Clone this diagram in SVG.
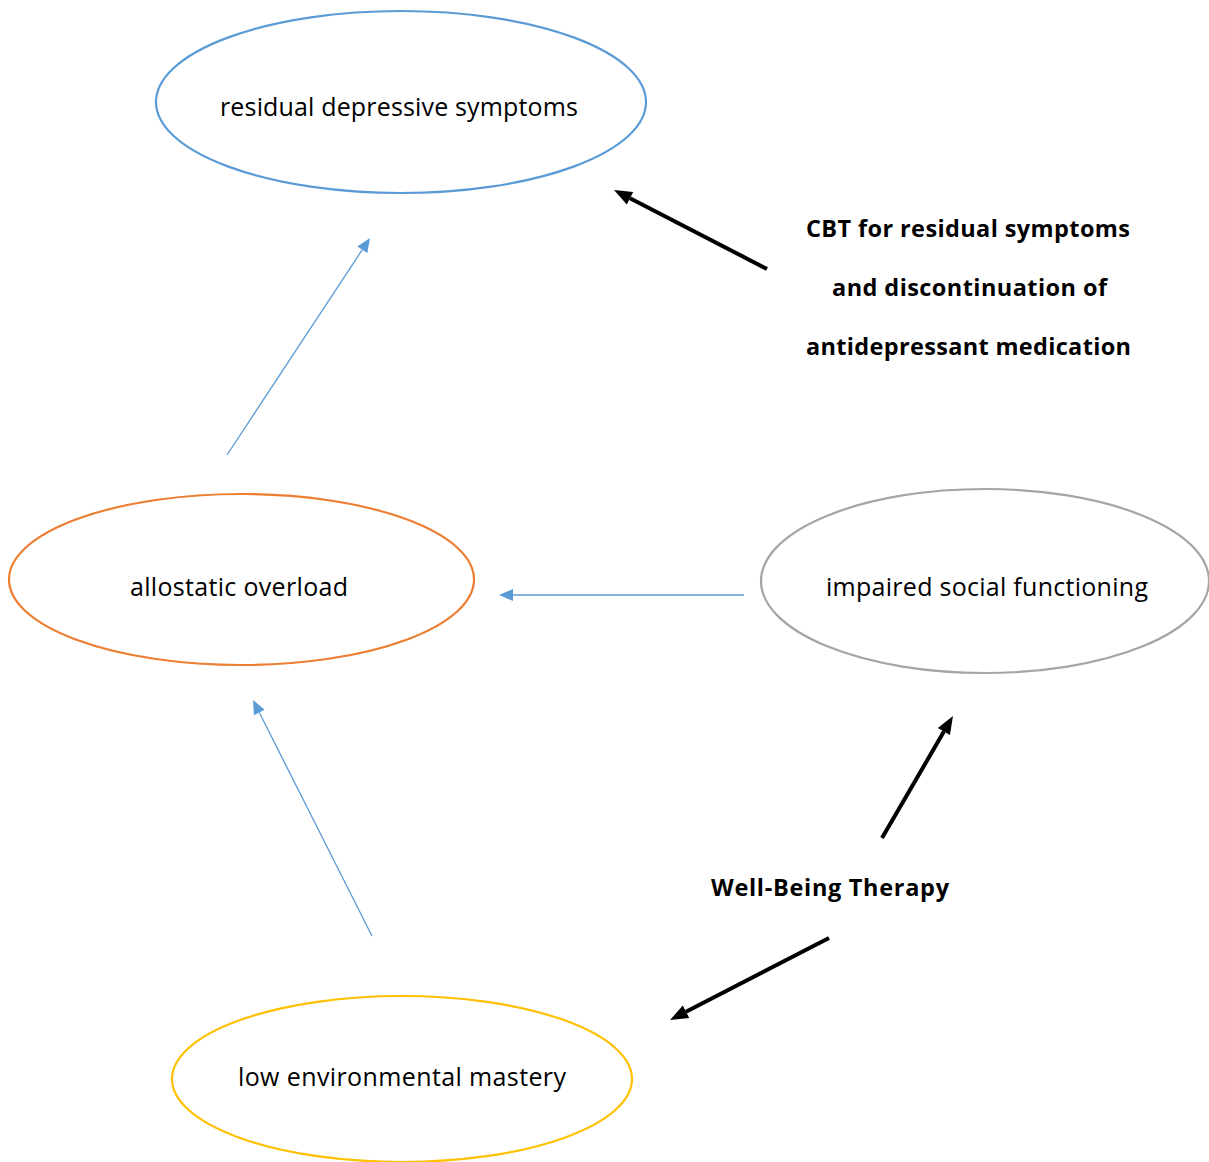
<svg xmlns="http://www.w3.org/2000/svg" width="1209" height="1162" viewBox="0 0 1209 1162">
<defs>
<style>
.node{fill:#fff;stroke-width:2.2}
.lbl{font-family:"Open Sans",Lato,"Liberation Sans",sans-serif;font-size:25px;fill:#000;text-anchor:middle}
.bold{font-family:"Open Sans",Lato,"Liberation Sans",sans-serif;font-size:23.5px;font-weight:bold;fill:#000;text-anchor:middle}
.blue{stroke:#5B9BD5;stroke-width:1.3;fill:none}
.black{stroke:#000;stroke-width:4;fill:none}
</style>
<marker id="ab" markerUnits="userSpaceOnUse" viewBox="0 -6 14 12" markerWidth="14" markerHeight="12" refX="0" refY="0" orient="auto" overflow="visible"><path d="M0,-6 L14,0 L0,6 z" fill="#5B9BD5"/></marker>
<marker id="ak" markerUnits="userSpaceOnUse" viewBox="0 -7 18 14" markerWidth="18" markerHeight="14" refX="0" refY="0" orient="auto" overflow="visible"><path d="M0,-7 L18,0 L0,7 z" fill="#000"/></marker>
</defs>
<rect width="1209" height="1162" fill="#fff"/>
<g id="connectors">
<line class="blue" x1="227" y1="455" x2="362.3" y2="249.7" marker-end="url(#ab)"/>
<line class="blue" x1="744" y1="595" x2="513" y2="595" marker-end="url(#ab)"/>
<line class="blue" x1="372" y1="936" x2="259.3" y2="712.5" marker-end="url(#ab)"/>
<line class="black" x1="767" y1="269" x2="630" y2="198.3" marker-end="url(#ak)"/>
<line class="black" x1="882" y1="838" x2="943.9" y2="731.6" marker-end="url(#ak)"/>
<line class="black" x1="829" y1="938" x2="686" y2="1011.8" marker-end="url(#ak)"/>
</g>
<g id="residual">
<ellipse class="node" cx="401" cy="102" rx="245" ry="91" stroke="#5B9BD5"/>
<text class="lbl" x="399" y="116" textLength="358">residual depressive symptoms</text>
</g>
<g id="allostatic">
<ellipse class="node" cx="241.5" cy="579.5" rx="232.5" ry="85.5" stroke="#ED7D31"/>
<text class="lbl" x="239" y="596" textLength="218">allostatic overload</text>
</g>
<g id="impaired">
<ellipse class="node" cx="985" cy="581" rx="224" ry="92" stroke="#A5A5A5"/>
<text class="lbl" x="987" y="596" textLength="322">impaired social functioning</text>
</g>
<g id="mastery">
<ellipse class="node" cx="402" cy="1079" rx="230" ry="83" stroke="#FFC000"/>
<text class="lbl" x="402" y="1086" textLength="328">low environmental mastery</text>
</g>
<g id="cbt">
<text class="bold" x="968" y="237" textLength="324">CBT for residual symptoms</text>
<text class="bold" x="969.5" y="296" textLength="275">and discontinuation of</text>
<text class="bold" x="968.5" y="355" textLength="325">antidepressant medication</text>
</g>
<g id="wbt">
<text class="bold" x="830" y="896" textLength="238">Well-Being Therapy</text>
</g>
</svg>
